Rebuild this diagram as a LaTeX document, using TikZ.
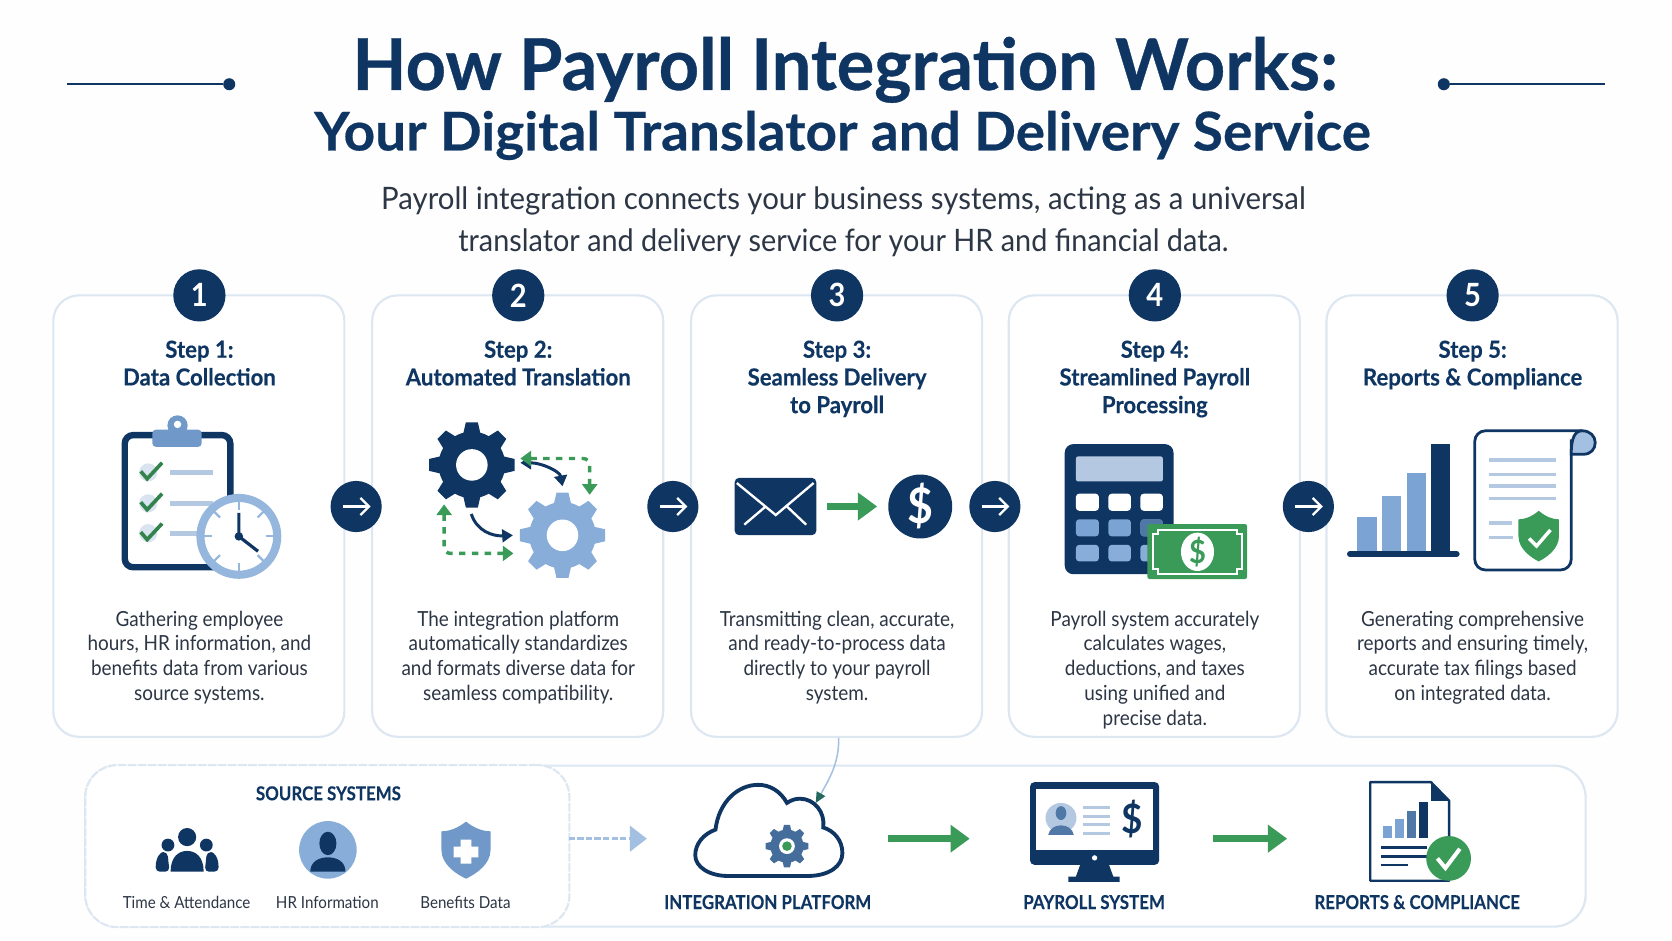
\documentclass[tikz,border=0pt]{standalone}
\usepackage{fontspec}
\setmainfont{Lato}[FakeStretch=0.91]
\newfontfamily\titlefont{Lato}[FakeStretch=0.985,BoldFeatures={FakeBold=0.5}]
\newfontfamily\subtitlefont{Lato}[FakeStretch=1.03,BoldFeatures={FakeBold=0.4}]
\newfontfamily\introfont{Lato}[FakeStretch=0.95]
\newfontfamily\introtwofont{Lato}[FakeStretch=0.932]
\newfontfamily\stepfont{Lato}[FakeStretch=0.945,BoldFeatures={FakeBold=0.25}]
\newfontfamily\rowfont{Lato}[FakeStretch=0.88,BoldFeatures={FakeBold=0.2}]
\usetikzlibrary{arrows.meta}
\definecolor{navy}{HTML}{0F3663}
\definecolor{midblue}{HTML}{7BA4D4}
\definecolor{paleblue}{HTML}{B4C8E2}
\definecolor{cardline}{HTML}{DCE7F2}
\definecolor{okgreen}{HTML}{3A9A58}
\definecolor{bodygrey}{HTML}{2C3644}
\tikzset{
	card/.style={draw=cardline,fill=white,line width=1pt,rounded corners=12pt,minimum width=136.5pt,minimum height=207pt},
	numdot/.style={circle,fill=navy,text=white,minimum size=24.5pt,inner sep=0pt,font=\fontsize{15}{15}\selectfont\bfseries},
	arrowdot/.style={circle,fill=navy,minimum size=24pt,inner sep=0pt},
	dotarrow/.style={white,line width=1.1pt,-{Straight Barb[length=4pt,width=8pt,line width=1.1pt]}},
	steptitle/.style={anchor=north,align=center,inner sep=0pt,text=navy,font=\fontsize{11}{13}\selectfont\stepfont\bfseries},
	steptext/.style={anchor=north,align=center,inner sep=0pt,text=bodygrey,font=\fontsize{9.75}{11.6}\selectfont},
	greenflow/.style={okgreen,line width=3.2pt,-{Triangle[length=9pt,width=12.5pt]}},
	iconbox/.style={inner sep=0pt,minimum height=30pt},
	rowlabel/.style={inner sep=0pt,text=navy,font=\fontsize{9}{11}\selectfont\rowfont\bfseries},
	srclabel/.style={inner sep=0pt,text=bodygrey,font=\fontsize{7.8}{9}\selectfont},
}
\newcommand{\gearfig}[5]{%
	\begin{scope}[shift={(#1,#2)}]
	\fill[#4] (0,0) circle ({.78*#3});
	\foreach \a in {0,45,...,315} {
		\fill[#4,rotate=\a] ({-.21*#3},{-.7*#3}) -- ({-.14*#3},{-#3}) -- ({.14*#3},{-#3}) -- ({.21*#3},{-.7*#3}) -- cycle;
	}
	\fill[#5] (0,0) circle ({.37*#3});
	\end{scope}}
\newcommand{\shieldfig}[5]{%
	\fill[#5,shift={(#1,#2)},xscale=#3,yscale=#4]
		(0,0) .. controls (-.35,.12) and (-.7,.17) .. (-1,.17) -- (-1,.5)
		.. controls (-1,.75) and (-.4,.92) .. (0,1) .. controls (.4,.92) and (1,.75) .. (1,.5)
		-- (1,.17) .. controls (.7,.17) and (.35,.12) .. (0,0) -- cycle;}
\begin{document}
\begin{tikzpicture}[x=0.5pt,y=-0.5pt]
\fill[white!99!paleblue] (0,0) rectangle (1568,882);
% heading
\node[text=navy,font=\fontsize{33.5}{36}\selectfont\titlefont\bfseries,inner sep=0pt] (title) at (792.5,65.5) {How Payroll Integration Works:};
\node[text=navy,font=\fontsize{25}{28}\selectfont\subtitlefont\bfseries,inner sep=0pt] (subtitle) at (790,127) {Your Digital Translator and Delivery Service};
\node[text=bodygrey,align=center,inner sep=0pt,font=\fontsize{14.5}{19.75}\selectfont\introfont] (intro) at (791,208) {Payroll integration connects your business systems, acting as a universal\\{\introtwofont translator and delivery service for your HR and financial data.}};
\coordinate (ruleLa) at (63,79);
\node[circle,fill=navy,inner sep=2pt] (ruleLb) at (215,79) {};
\coordinate (ruleRa) at (1505,79);
\node[circle,fill=navy,inner sep=2pt] (ruleRb) at (1354,79) {};
\draw[navy,line width=1pt] (ruleLa) -- (ruleLb);
\draw[navy,line width=1pt] (ruleRa) -- (ruleRb);
% the five cards
\foreach \i/\xc/\ttl/\txt in {
	1/186.5/{Step 1:\\Data Collection}/{Gathering employee\\hours, HR information, and\\benefits data from various\\source systems.},
	2/485.5/{Step 2:\\Automated Translation}/{The integration platform\\automatically standardizes\\and formats diverse data for\\seamless compatibility.},
	3/784.5/{Step 3:\\Seamless Delivery\\to Payroll}/{Transmitting clean, accurate,\\and ready-to-process data\\directly to your payroll\\system.},
	4/1082.5/{Step 4:\\Streamlined Payroll\\Processing}/{Payroll system accurately\\calculates wages,\\deductions, and taxes\\using unified and\\precise data.},
	5/1380.5/{Step 5:\\Reports \& Compliance}/{Generating comprehensive\\reports and ensuring timely,\\accurate tax filings based\\on integrated data.}} {
	\node[card] (card\i) at (\xc,484) {};
	\node[numdot] (num\i) at (\xc+.5,277) {\i};
	\node[steptitle] (head\i) at (\xc+.5,319) {\ttl};
	\node[steptext] (text\i) at (\xc+.5,572.5) {\txt};
}
\foreach \i/\xc in {1/334,2/631,3/933,4/1227} {
	\node[arrowdot] (adot\i) at (\xc,475) {};
	\draw[dotarrow] ([xshift=-6.2pt]adot\i.center) -- ([xshift=6.8pt]adot\i.center);
}
% step 1: clipboard and clock
\draw[navy,line width=3pt,rounded corners=4pt,fill=white] (117,408) rectangle (216,532);
\fill[midblue!90!navy,rounded corners=1.5pt] (143,403) rectangle (189,419);
\fill[midblue!90!navy] (166.5,399) circle (9.5);
\fill[white] (166.5,398) circle (3.5);
\foreach \y in {434,463,491} {
	\fill[paleblue!50] (139,\y+9) circle (8.5);
	\draw[okgreen!85!black,line width=1.7pt] (132,\y+8) -- (138,\y+15) -- (152,\y);
	\draw[paleblue,line width=2.2pt] (159,\y+9) -- (200,\y+9);
}
\draw[midblue!80,line width=3.8pt,fill=white] (224,503) circle (36);
\foreach \a in {0,45,...,315} {
	\draw[midblue!80,line width=1pt] (224,503) ++(\a:25) -- ++(\a:8);
}
\draw[navy,line width=1.5pt] (224,481) -- (224,503) -- (242,517);
\fill[navy] (224,503) circle (4);
% step 2: two gears
\gearfig{442.5}{436}{40}{navy}{white}
\gearfig{527.5}{502}{40}{midblue!90}{white}
\draw[navy,line width=1.4pt,{Triangle[length=5pt,width=6pt]}-{Triangle[length=5pt,width=6pt]}] (488,434) .. controls (508,434) and (525,442) .. (527.5,456);
\draw[navy,line width=1.4pt,-{Triangle[length=5pt,width=6pt]}] (442,482) .. controls (447,498) and (462,503) .. (481,502);
\draw[okgreen,line width=1.6pt,dashed,rounded corners=3pt,{Triangle[length=5pt,width=7pt]}-{Triangle[length=5pt,width=7pt]}] (488,430) -- (553,430) -- (553,464);
\draw[okgreen,line width=1.6pt,dashed,rounded corners=3pt,{Triangle[length=5pt,width=7pt]}-{Triangle[length=5pt,width=7pt]}] (416.5,473) -- (416.5,519) -- (481.5,519);
% step 3: envelope to dollar
\node[fill=navy,rounded corners=2pt,minimum width=38.25pt,minimum height=26.8pt,inner sep=0pt] (envelope) at (727.25,475) {};
\draw[white,line width=1.1pt] (691,453) -- (727.5,483) -- (763,453) (698,492) -- (718,475) (756,492) -- (738,475);
\node[circle,fill=navy,text=white,minimum size=30pt,inner sep=0pt,font=\fontsize{23}{23}\selectfont\bfseries] (dollar) at (863,475) {\$};
\draw[greenflow,shorten <=5pt,shorten >=5pt] (envelope) -- (dollar);
% step 4: calculator and banknote
\fill[navy,rounded corners=4pt] (998.5,416.5) rectangle (1100.5,538.5);
\fill[paleblue,rounded corners=1pt] (1009,428) rectangle (1090.5,451.5);
\foreach \xa/\xb in {1009/1030.5,1039.5/1060.5,1069.5/1090.5} {
	\fill[white,rounded corners=1.5pt] (\xa,463) rectangle (\xb,479);
	\fill[midblue,rounded corners=1.5pt] (\xa,487) rectangle (\xb,503);
	\fill[midblue!90,rounded corners=1.5pt] (\xa,511) rectangle (\xb,526.5);
}
\fill[midblue!60!navy,rounded corners=1.5pt] (1069.5,487) rectangle (1090.5,503);
\fill[okgreen,rounded corners=1pt] (1076,491.5) rectangle (1169.5,543);
\draw[white,line width=1pt] (1086,497) -- (1160,497) -- (1160,501) -- (1165,501) -- (1165,534) -- (1160,534) -- (1160,538) -- (1086,538) -- (1086,534) -- (1081,534) -- (1081,501) -- (1086,501) -- cycle;
\fill[white] (1123,517.5) ellipse (15.5 and 18);
\node[text=okgreen,inner sep=0pt,font=\fontsize{15}{15}\selectfont\bfseries] (leaf) at (1123,517.5) {\$};
% step 5: bars and report sheet
\foreach \xa/\top/\col in {1273/484.5/midblue,1296/465/midblue!95,1319/443.5/midblue,1342/416.5/navy} {
	\fill[\col] (\xa,\top) rectangle (\xa+18,518);
}
\draw[navy,line width=2.8pt,line cap=round] (1266,519.5) -- (1366,519.5);
\draw[navy,line width=1.3pt,fill=white,rounded corners=5pt] (1484,404) -- (1383,404) -- (1383,534.5) -- (1473.5,534.5) -- (1473.5,412);
\draw[navy,line width=1.3pt,fill=midblue!70] (1473.5,426) -- (1485,426) .. controls (1492,426) and (1496,421) .. (1496,415) .. controls (1496,409) and (1491,404) .. (1484,404) .. controls (1477,404) and (1473.5,410) .. (1473.5,426) -- cycle;
\foreach \y in {431.5,445,455.5,467.5} {
	\draw[paleblue,line width=1.7pt] (1396.5,\y) -- (1459,\y);
}
\draw[paleblue,line width=1.5pt] (1396.5,490.5) -- (1418,490.5) (1396.5,504) -- (1419,504);
\shieldfig{1443}{479}{19}{47.5}{okgreen}
\draw[white,line width=1.6pt] (1434,505) -- (1441,512) -- (1454,497);
% bottom row
\node[card,rounded corners=15pt,minimum width=703.5pt,minimum height=75.5pt] (panel) at (783.5,793.5) {};
\node[card,rounded corners=15pt,dash pattern=on 4pt off .7pt,minimum width=227pt,minimum height=76pt] (srcbox) at (307,793.5) {};
\node[rowlabel] (srctitle) at (308,744) {SOURCE SYSTEMS};
\fill[navy] (175.5,785) circle (8.5) (157.5,792.5) circle (6) (193.5,792.5) circle (6);
\fill[navy,rounded corners=2pt] (146,817.5) .. controls (146,803) and (151,799) .. (157,799) -- (159,817.5) -- cycle;
\fill[navy,rounded corners=2pt] (205,817.5) .. controls (205,803) and (200,799) .. (194,799) -- (192,817.5) -- cycle;
\fill[navy] (160,817.5) .. controls (160,804) and (167,798) .. (175.5,798) .. controls (184,798) and (191,804) .. (191,817.5) -- cycle;
\node[srclabel] (srcA) at (175,846) {Time \& Attendance};
\fill[midblue!90] (307.5,797) circle (27);
\fill[navy] (307.5,791) ellipse (8 and 11);
\fill[navy] (291,817.5) .. controls (291,808) and (299,804) .. (307.5,804) .. controls (316,804) and (324,808) .. (324,817.5) -- cycle;
\node[srclabel] (srcB) at (307,846) {HR Information};
\shieldfig{437}{770.5}{23}{53.5}{midblue!90!navy}
\fill[white] (425.5,794) rectangle (448.5,804) (432,787.5) rectangle (442,810);
\node[srclabel] (srcC) at (436.5,846) {Benefits Data};
\node[iconbox,minimum width=69pt] (cloudicon) at (721,786.5) {};
\draw[navy,line width=1.8pt,fill=white] (683,821.5) -- (757,821.5) .. controls (778,821.5) and (790,812) .. (790,800) .. controls (790,788) and (782,779) .. (772,776) .. controls (774,762) and (764,749) .. (750,749) .. controls (745,749) and (741,751) .. (738,753) .. controls (732,742) and (722,736) .. (711,736) .. controls (692,736) and (674,752) .. (671,778) .. controls (660,782) and (652,791) .. (652,802) .. controls (652,813) and (665,821.5) .. (683,821.5) -- cycle;
\gearfig{738}{793.5}{20}{midblue!50!navy}{white}
\fill[okgreen] (738,793.5) circle (4.5);
\node[rowlabel] (labelB) at (720,846) {INTEGRATION PLATFORM};
\node[iconbox,minimum width=60.7pt] (monitoricon) at (1026.5,786.5) {};
\fill[navy,rounded corners=2pt] (966,733.5) rectangle (1087,811);
\fill[white] (971.5,740) rectangle (1081.5,797);
\fill[white] (1026.5,804.5) circle (2.5);
\fill[navy] (1013,811) -- (1040,811) -- (1044,822) -- (1050,822) -- (1050,827) -- (1002,827) -- (1002,822) -- (1009,822) -- cycle;
\fill[paleblue] (995,767) ellipse (14.5 and 14);
\fill[midblue!60!navy] (995,762.5) ellipse (5 and 6.5) (983,783) .. controls (985,771) and (1005,771) .. (1007,783) -- cycle;
\foreach \y in {757.5,765.5,773.5,781.5} {
	\draw[paleblue,line width=1.5pt] (1016,\y) -- (1040.5,\y);
}
\node[text=navy,inner sep=0pt,font=\fontsize{19}{19}\selectfont\bfseries] (payicon) at (1062,768) {\$};
\node[rowlabel] (labelC) at (1026,846) {PAYROLL SYSTEM};
\node[iconbox,minimum width=47.5pt] (reporticon) at (1330,786.5) {};
\draw[navy,line width=1.1pt,fill=white,line join=round] (1285,733.5) -- (1342,733.5) -- (1359,751) -- (1359,826) -- (1285,826) -- cycle;
\fill[navy] (1342,733.5) -- (1359,751) -- (1342,751) -- cycle;
\foreach \xa/\top/\col in {1297/775/midblue,1308/768.5/midblue,1319.5/761/midblue!60!navy,1330.5/752.5/navy} {
	\fill[\col] (\xa,\top) rectangle (\xa+8.5,785.5);
}
\draw[navy,line width=1.2pt] (1295.5,795) -- (1338,795) (1295.5,803) -- (1338,803) (1295.5,811) -- (1320,811);
\fill[okgreen] (1358.5,805) circle (21);
\draw[white,line width=1.9pt] (1348,805) -- (1355.5,814) -- (1369,796);
\node[rowlabel] (labelD) at (1329,846) {REPORTS \& COMPLIANCE};
% flow between the icons
\coordinate (dashstart) at (533.5,786.5);
\draw[midblue!70,line width=1.5pt,dash pattern=on 3pt off 1pt,-{Triangle[length=8pt,width=12pt]}] (dashstart) -- ([xshift=-22.5pt]cloudicon.west);
\draw[greenflow,shorten <=21pt] (cloudicon.east) -- ([xshift=-28pt]monitoricon.west);
\draw[greenflow,shorten <=25pt] (monitoricon.east) -- ([xshift=-37.5pt]reporticon.west);
\coordinate (cloudtop) at (765,753);
\draw[midblue!70,line width=.7pt,-{Triangle[length=5pt,width=4.5pt,color=okgreen!50!navy]}] ([xshift=1pt]card3.south) .. controls (787,715) and (778,730) .. (cloudtop);
\end{tikzpicture}
\end{document}
